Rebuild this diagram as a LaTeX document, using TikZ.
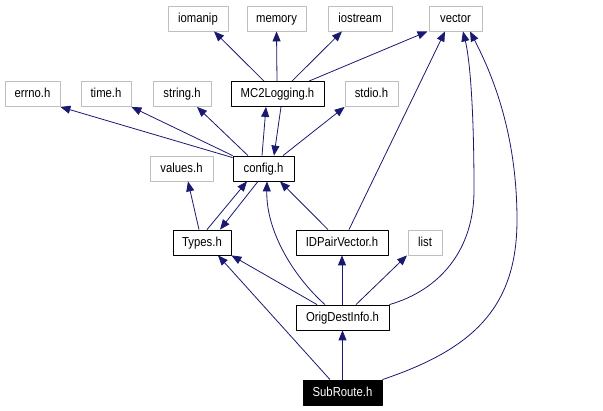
\documentclass[tikz,border=0pt]{standalone}
\usepackage{fontspec}
\setmainfont{Liberation Sans}
\newfontfamily\dotfont[FakeStretch=0.87]{Liberation Sans}
\usetikzlibrary{arrows.meta}
\definecolor{edgeblue}{HTML}{191970}
\definecolor{extgray}{HTML}{BFBFBF}
\begin{document}
\begin{tikzpicture}[x=1pt, y=-1pt, line join=round,
  hdr/.style={draw=black, line width=0.8pt, minimum height=25pt, inner sep=0pt,
    text height=10.5pt, text depth=2.5pt, font=\dotfont\fontsize{13}{15}\selectfont},
  ext/.style={hdr, draw=extgray},
  cur/.style={hdr, fill=black, text=white},
  inc/.style={draw=edgeblue, line width=0.8pt, -{Triangle[length=10pt,width=8pt]}}
]
  \useasboundingbox (0,0) rectangle (603,411);

  \node[ext, minimum width=60pt] (iomanip) at (198,18.5) {iomanip};
  \node[ext, minimum width=59pt] (memory) at (276.5,18.5) {memory};
  \node[ext, minimum width=64pt] (iostream) at (360,18.5) {iostream};
  \node[ext, minimum width=53pt] (vector) at (455.5,18.5) {vector};

  \node[ext, minimum width=55pt] (errno) at (32.5,94) {errno.h};
  \node[ext, minimum width=50pt] (time) at (106,94) {time.h};
  \node[ext, minimum width=58pt] (string) at (182,94) {string.h};
  \node[hdr, minimum width=93pt] (mc2) at (277.5,94) {MC2Logging.h};
  \node[ext, minimum width=53pt] (stdio) at (371.5,94) {stdio.h};

  \node[ext, minimum width=63pt] (values) at (181.5,168.5) {values.h};
  \node[hdr, minimum width=61pt] (config) at (263.5,168.5) {config.h};

  \node[hdr, minimum width=58pt] (types) at (202,242.5) {Types.h};
  \node[hdr, minimum width=92pt] (idpair) at (342,242.5) {IDPairVector.h};
  \node[ext, minimum width=34pt] (list) at (425,242.5) {list};

  \node[hdr, minimum width=93pt] (orig) at (342.5,317.5) {OrigDestInfo.h};
  \node[cur, minimum width=79pt] (subroute) at (342.5,392.5) {SubRoute.h};

  \draw[inc] ([xshift=-13.5pt]mc2.north) -- ([xshift=16pt]iomanip.south);
  \draw[inc] ([xshift=-0.5pt]mc2.north) -- (memory.south);
  \draw[inc] ([xshift=14.5pt]mc2.north) -- ([xshift=-18pt]iostream.south);
  \draw[inc] ([xshift=31.5pt]mc2.north) -- ([xshift=-28pt]vector.south);

  \draw[inc] ([yshift=-2pt]config.north west) -- (errno.south east);
  \draw[inc] (config.north west) -- (time.south east);
  \draw[inc] ([xshift=-15.5pt]config.north) -- ([xshift=15pt]string.south);
  \draw[inc] ([xshift=-1.5pt]config.north) -- ([xshift=-11.5pt]mc2.south);
  \draw[inc] ([xshift=3.5pt]mc2.south) -- ([xshift=10.5pt]config.north);
  \draw[inc] ([xshift=19.5pt]config.north) -- (stdio.south west);

  \draw[inc] ([xshift=-3pt]types.north) -- ([xshift=6.5pt]values.south);
  \draw[inc] ([xshift=5pt]types.north) -- ([xshift=-16.5pt]config.south);
  \draw[inc] ([xshift=-5.5pt]config.south) -- ([xshift=18pt]types.north);

  \draw[inc] ([xshift=-14pt]idpair.north) -- ([xshift=16.5pt]config.south);
  \draw[inc] ([xshift=7pt]idpair.north) -- ([xshift=-10.5pt]vector.south);

  \draw[inc] ([xshift=-25.5pt]orig.north) -- (types.south east);
  \draw[inc] ([xshift=-17.5pt]orig.north) .. controls (292,275) and (266,230) .. ([xshift=3.5pt]config.south);
  \draw[inc] ([xshift=-0.5pt]orig.north) -- (idpair.south);
  \draw[inc] ([xshift=13.5pt]orig.north) -- ([xshift=-18pt]list.south);
  \draw[inc] (orig.north east) .. controls (440,290) and (474,250) .. (474,190)
    .. controls (474,110) and (470,60) .. ([xshift=7.5pt]vector.south);

  \draw[inc] ([xshift=-12.5pt]subroute.north) -- ([xshift=16pt]types.south);
  \draw[inc] (subroute.north) -- (orig.south);
  \draw[inc] (subroute.north east) .. controls (470,350) and (517,310) .. (517,220)
    .. controls (517,130) and (490,70) .. ([xshift=14.5pt]vector.south);
\end{tikzpicture}
\end{document}
